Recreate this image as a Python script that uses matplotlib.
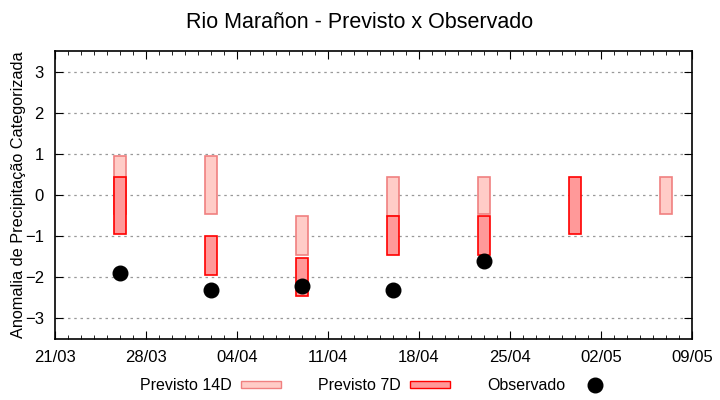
import matplotlib
matplotlib.use("Agg")
import matplotlib.pyplot as plt
import matplotlib.dates as mdates
from matplotlib.patches import Patch
from matplotlib.lines import Line2D
import pandas as pd

plt.rcParams["font.family"] = ["Liberation Sans", "DejaVu Sans"]

# -----------------------------
# DATA
# -----------------------------
dates = pd.to_datetime(["2023-03-26", "2023-04-02", "2023-04-09", "2023-04-16",
                        "2023-04-23", "2023-04-30", "2023-05-07"])
# forecast ranges (bottom, top); None = no bar
prev14_low = [-0.45, -0.45, -1.45, -0.52, -0.45, None, -0.45]
prev14_high = [0.95, 0.95, -0.52, 0.43, 0.43, None, 0.43]
prev7_low = [-0.95, -1.95, -2.45, -1.45, -1.45, -0.95, None]
prev7_high = [0.43, -1.00, -1.52, -0.52, -0.52, 0.43, None]
obs_dates = dates[:5]
observado = [-1.90, -2.31, -2.22, -2.32, -1.61]

xticks = pd.date_range("2023-03-21", "2023-05-09", freq="7D")

# -----------------------------
# PLOT
# -----------------------------
fig = plt.figure(figsize=(7.2, 4.0), dpi=100)
ax = fig.add_axes([0.0764, 0.1525, 0.8847, 0.72])

width = pd.Timedelta(hours=22)

for d, lo, hi in zip(dates, prev14_low, prev14_high):
    if lo is None:
        continue
    ax.bar(d, hi - lo, bottom=lo, width=width, color="#ffccc7",
           edgecolor="#f08080", linewidth=1.2, zorder=2)

for d, lo, hi in zip(dates, prev7_low, prev7_high):
    if lo is None:
        continue
    ax.bar(d, hi - lo, bottom=lo, width=width, color="#ff9999",
           edgecolor="#ff0000", linewidth=1.2, zorder=3)

ax.plot(obs_dates, observado, "o", color="black", markersize=10.5, zorder=4)

ax.set_ylim(-3.5, 3.5)
ax.set_yticks([-3, -2, -1, 0, 1, 2, 3])
ax.set_xlim(xticks[0], xticks[-1])
ax.set_xticks(xticks)
ax.xaxis.set_major_formatter(mdates.DateFormatter("%d/%m"))
ax.xaxis.set_minor_locator(mdates.DayLocator())

ax.grid(axis="y", linestyle=(0, (2, 3)), color="#999999", linewidth=0.9, zorder=1)
ax.tick_params(axis="both", which="both", direction="in", top=True, right=True,
               labelsize=12, colors="black")
ax.tick_params(axis="x", which="major", length=6, pad=8)
ax.tick_params(axis="x", which="minor", length=3)
ax.tick_params(axis="y", which="major", length=6, pad=8)
ax.tick_params(axis="y", which="minor", left=False, right=False)
for s in ax.spines.values():
    s.set_linewidth(1.2)

ax.set_ylabel("Anomalia de Precipitação Categorizada", fontsize=11.7, va="center")
ax.yaxis.set_label_coords(-0.058, 0.5)
fig.suptitle("Rio Marañon - Previsto x Observado", fontsize=15.5, y=0.97)

handles = [
    Patch(facecolor="#ffccc7", edgecolor="#f08080", label="Previsto 14D"),
    Patch(facecolor="#ff9999", edgecolor="#ff0000", label="Previsto 7D"),
    Line2D([], [], marker="o", linestyle="none", color="black", markersize=10.5,
           label="Observado"),
]
fig.legend(handles=handles, loc="center", bbox_to_anchor=(0.524, 0.036), ncol=3,
           frameon=False, markerfirst=False, fontsize=11.5, handlelength=2.5,
           handleheight=0.37, handletextpad=0.6, columnspacing=2.3)

fig.savefig("out.png", dpi=100)
